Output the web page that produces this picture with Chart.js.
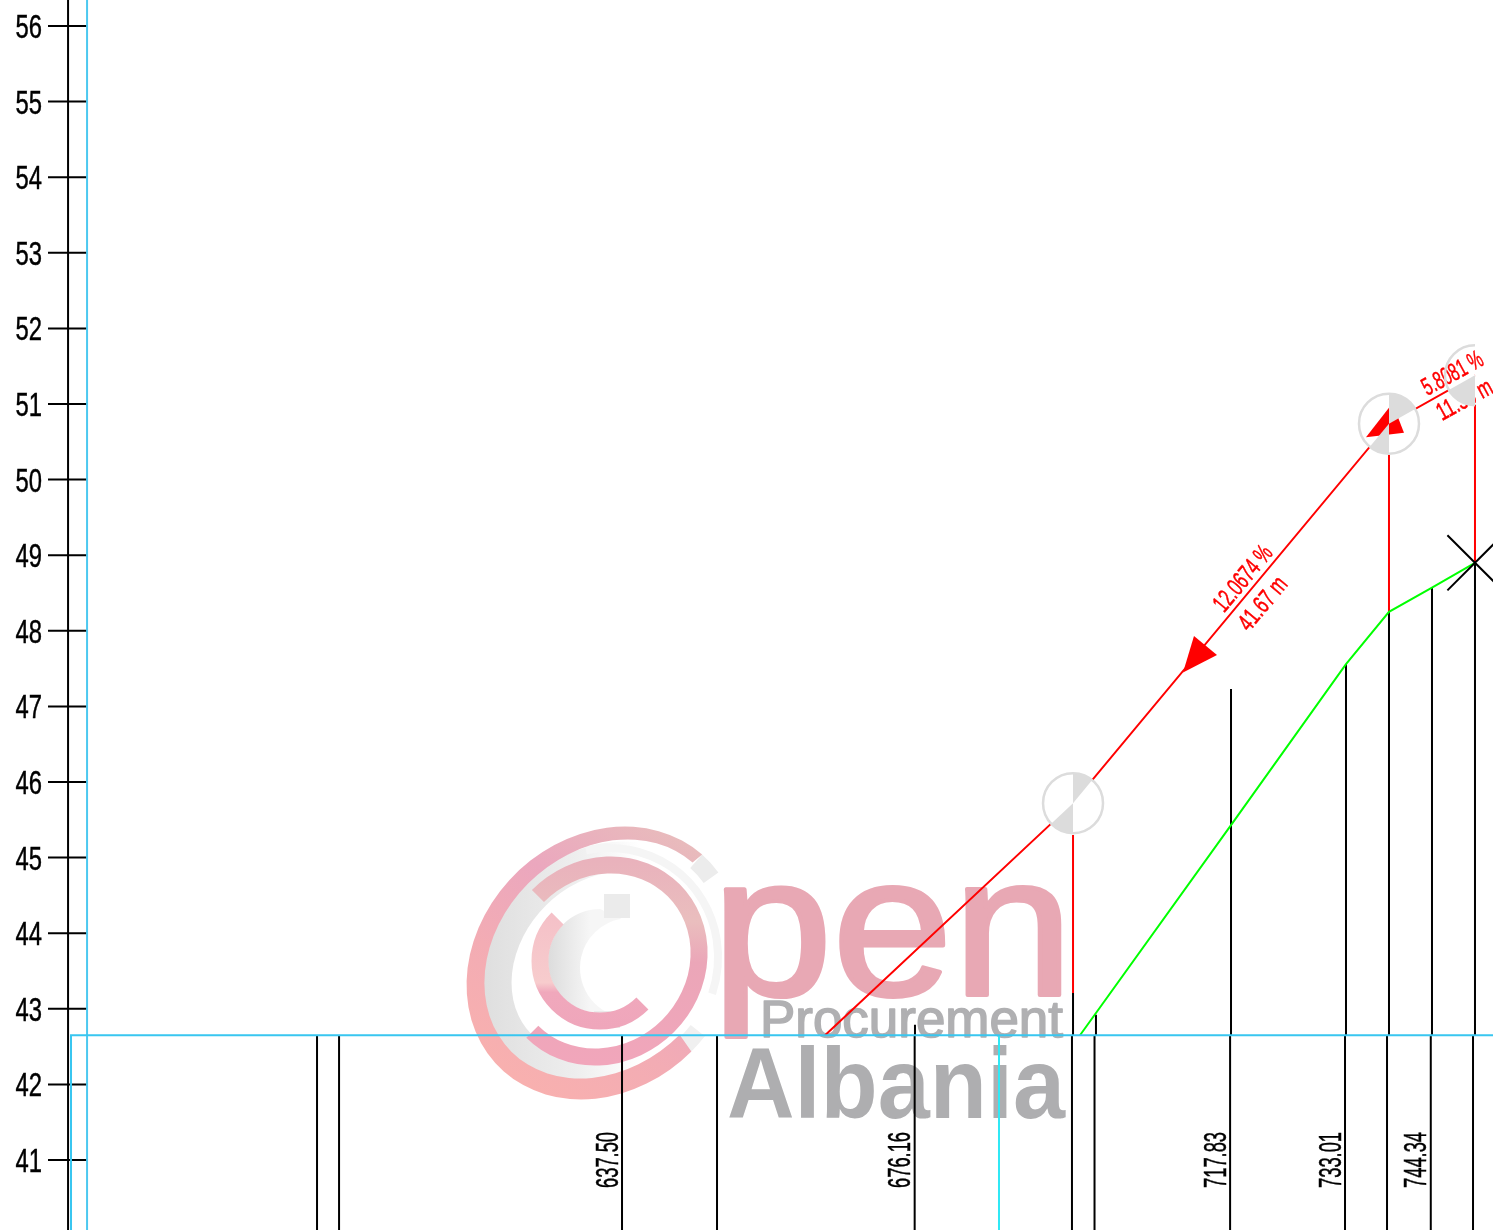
<!DOCTYPE html>
<html>
<head>
<meta charset="utf-8">
<title>Profile</title>
<script src="https://cdn.jsdelivr.net/npm/chart.js@4/dist/chart.umd.js"></script>
<style>
  html, body { margin: 0; padding: 0; background: #fff; }
  canvas { display: block; }
</style>
</head>
<body>
<canvas id="profile" width="1493" height="1230"></canvas>
<script>
// elevations on the left ruler
var yTicks = [41, 42, 43, 44, 45, 46, 47, 48, 49, 50, 51, 52, 53, 54, 55, 56];
var yMin = 40.074, yMax = 56.344;
var xMin = 561.67, xMax = 752.56;

// ruler lines
var rulerX = 564.32, rulerTickFrom = 561.67, rulerTickTo = 566.83;
var baseY = 42.65;
var baseStartX = 564.71;
var datumX = 566.83;
var cyanDropX = 687.30;

// stations below the datum line
var stationsBelow = [597.21, 600.12, 637.50, 650.05, 676.16, 696.94, 699.92, 717.83, 733.01, 738.56, 744.34, 749.92];
// stations above the datum line and where they stop
var stationsAboveX = [676.20, 697.08, 700.11, 717.95, 733.14, 738.82, 744.50, 750.18];
var stationsAboveY = [42.79, 43.21, 42.92, 47.23, 47.56, 48.25, 48.57, 48.90];

// labelled stations
var stationLabels = ['637.50', '676.16', '717.83', '733.01', '744.34'];
var stationLabelX = [637.50, 676.16, 717.83, 733.01, 744.34];
var stationLabelY = 40.63;

// ground line (green)
var groundX = [698.00, 717.95, 733.14, 738.82, 744.50, 750.18];
var groundY = [42.65, 45.43, 47.56, 48.25, 48.57, 48.90];

// pipe line (red) and its manholes
var pipeX = [664.32, 697.08, 738.82, 750.18];
var pipeY = [42.65, 45.72, 50.74, 51.38];
var riserX = [697.08, 738.82, 750.18];
var riserTop = [45.30, 50.33, 50.99];
var riserBottom = [43.21, 48.25, 48.90];

// arrow heads, three corners each
var arrowAX = [711.61, 713.06, 716.10], arrowAY = [47.45, 47.93, 47.68];
var arrowBX = [735.78, 739.28, 740.80], arrowBY = [50.56, 51.01, 50.62];

// slope texts
var slopeText = ['12.0674 %', '41.67 m', '5.8081 %', '11.36 m'];
var slopeX = [719.40, 722.04, 747.14, 748.73];
var slopeY = [48.70, 48.37, 51.42, 51.07];

var sans = '"Liberation Sans", sans-serif';

function xy(xs, ys) {
  return xs.map(function (x, i) { return { x: x, y: ys[i] }; });
}

function verticals(xs, tops, bottoms) {
  var out = [];
  xs.forEach(function (x, i) {
    out.push({ x: x, y: tops[i] }, { x: x, y: bottoms[i] }, { x: x, y: null });
  });
  return out;
}

function same(list, v) {
  return list.map(function () { return v; });
}

function line(data, color, width) {
  return { data: data, borderColor: color, borderWidth: width, pointRadius: 0, showLine: true, fill: false, tension: 0 };
}

// text squeezed to a given width, CAD fonts are much narrower than ours
function squeezed(ctx, text, px, py, angle, size, width, color, align) {
  ctx.save();
  ctx.translate(px, py);
  ctx.rotate(angle);
  ctx.font = size + 'px ' + sans;
  ctx.fillStyle = color;
  ctx.strokeStyle = color;
  ctx.lineWidth = 0.5;
  ctx.textAlign = align;
  ctx.textBaseline = 'alphabetic';
  var w = ctx.measureText(text).width;
  ctx.scale(width / w, 1);
  ctx.fillText(text, 0, 0);
  ctx.strokeText(text, 0, 0);
  ctx.restore();
}

function band(ctx, cx, cy, rx, ry, a0, a1, ccw, lw, style) {
  ctx.beginPath();
  ctx.ellipse(cx, cy, rx, ry, -Math.PI / 4, a0 * Math.PI / 180, a1 * Math.PI / 180, ccw);
  ctx.lineWidth = lw;
  ctx.strokeStyle = style;
  ctx.stroke();
}

function grad(ctx, x0, y0, x1, y1, stops) {
  var g = ctx.createLinearGradient(x0, y0, x1, y1);
  stops.forEach(function (s) { g.addColorStop(s[0], s[1]); });
  return g;
}

function wideText(ctx, text, x, base, width, size, weight, extra, color) {
  ctx.save();
  ctx.font = weight + ' ' + size + 'px ' + sans;
  ctx.fillStyle = color;
  ctx.strokeStyle = color;
  ctx.lineWidth = extra;
  ctx.lineJoin = 'round';
  ctx.textAlign = 'left';
  ctx.textBaseline = 'alphabetic';
  var w = ctx.measureText(text).width;
  ctx.translate(x, base);
  ctx.scale(width / w, 1);
  ctx.fillText(text, 0, 0);
  if (extra) ctx.strokeText(text, 0, 0);
  ctx.restore();
}

// the watermark sits behind the drawing
var watermark = {
  id: 'watermark',
  beforeDatasetsDraw: function (chart) {
    var ctx = chart.ctx;
    var rad = Math.PI / 180;
    var tilt = -Math.PI / 4;
    ctx.save();
    ctx.lineCap = 'butt';

    // grey shading
    var shade = grad(ctx, 480, 960, 640, 960, [[0, '#dedede'], [0.6, '#eeeeee'], [1, '#ffffff']]);
    band(ctx, 603, 963, 116, 96, -5, 90, true, 30, shade);
    band(ctx, 603, 963, 118, 112, -55, 62, false, 8, '#f5f5f5');
    band(ctx, 603, 963, 138, 116, -3, 8, false, 18, '#ececec');
    band(ctx, 603, 963, 138, 116, 90, 82, true, 18, '#f0f0f0');

    var inner = grad(ctx, 548, 960, 590, 960, [[0, '#dcdcdc'], [1, '#f6f6f6']]);
    ctx.beginPath();
    ctx.arc(600, 961, 52, -90 * rad, 90 * rad, true);
    ctx.lineTo(620, 1014);
    ctx.arc(630, 968, 50, 102 * rad, -100 * rad, false);
    ctx.closePath();
    ctx.fillStyle = inner;
    ctx.fill();
    ctx.fillStyle = '#ebebeb';
    ctx.fillRect(594, 1011, 26, 17);
    ctx.fillRect(604, 894, 26, 24);

    // outer band, heavier towards the bottom
    ctx.beginPath();
    ctx.ellipse(603, 963, 147, 125, tilt, -3 * rad, 90 * rad, true);
    ctx.ellipse(604, 959, 131, 107, tilt, 90 * rad, -3 * rad, false);
    ctx.closePath();
    ctx.fillStyle = grad(ctx, 500, 1090, 680, 830, [[0, '#f9b1ae'], [0.35, '#f3acb4'], [0.65, '#eba7be'], [1, '#e8bcbc']]);
    ctx.fill();
    // middle band
    band(ctx, 603, 961, 100, 92, -90, 180, false, 17,
      grad(ctx, 620, 860, 620, 1065, [[0, '#e9b2bc'], [0.3, '#eabebe'], [0.5, '#eba6b8'], [1, '#f1a6bb']]));
    // inner band
    band(ctx, 600, 961, 60, 60, -90, 90, true, 17,
      grad(ctx, 560, 895, 560, 1030, [[0, '#f4bdc6'], [0.65, '#f7cccd'], [0.72, '#f0a8bc'], [1, '#efa6bb']]));

    wideText(ctx, 'pen', 712, 995, 361, 200, 'normal', 4, '#e8a8b4');
    wideText(ctx, 'Procurement', 760, 1037, 303, 51, 'normal', 1.5, '#b0b0b2');
    wideText(ctx, 'Albania', 727, 1118, 338, 100, 'bold', 0, '#aeaeb0');
    ctx.restore();
  }
};

// manholes, slope texts and station numbers
var annotations = {
  id: 'annotations',
  afterDatasetsDraw: function (chart) {
    var ctx = chart.ctx;
    var sx = chart.scales.x, sy = chart.scales.y;
    var nodes = xy(pipeX, pipeY).map(function (p) {
      return { x: sx.getPixelForValue(p.x), y: sy.getPixelForValue(p.y) };
    });
    var r = 30;

    ctx.save();

    // ruler numbers, squeezed the same way as the rest of the text
    sy.ticks.forEach(function (t) {
      var label = String(t.value);
      ctx.font = '34px ' + sans;
      squeezed(ctx, label, 42, sy.getPixelForValue(t.value) + 12, 0, 34, ctx.measureText(label).width * 0.7, '#000', 'right');
    });

    // station numbers
    stationLabels.forEach(function (t, i) {
      squeezed(ctx, t, sx.getPixelForValue(stationLabelX[i]) - 4.5, sy.getPixelForValue(stationLabelY),
        -Math.PI / 2, 31, 56, '#000', 'left');
    });

    // the pipe does not show inside the manhole circles
    nodes.forEach(function (n, i) {
      if (i === 0) return;
      ctx.save();
      ctx.beginPath();
      ctx.arc(n.x, n.y, r, 0, Math.PI * 2);
      ctx.clip();
      ctx.beginPath();
      ctx.moveTo(nodes[i - 1].x, nodes[i - 1].y);
      ctx.lineTo(n.x, n.y);
      if (nodes[i + 1]) ctx.lineTo(nodes[i + 1].x, nodes[i + 1].y);
      ctx.strokeStyle = '#fff';
      ctx.lineWidth = 4;
      ctx.stroke();
      ctx.restore();
    });

    // slope texts
    var angles = [-0.875, -0.875, -0.5, -0.5];
    var widths = [78, 62, 66, 60];
    slopeText.forEach(function (t, i) {
      ctx.save();
      ctx.translate(sx.getPixelForValue(slopeX[i]), sy.getPixelForValue(slopeY[i]));
      ctx.rotate(angles[i]);
      squeezed(ctx, t, 0, 9, 0, 25, widths[i], '#ff0000', 'center');
      ctx.restore();
    });

    // arrow heads
    [[arrowAX, arrowAY], [arrowBX, arrowBY]].forEach(function (a) {
      ctx.beginPath();
      a[0].forEach(function (x, i) {
        ctx.lineTo(sx.getPixelForValue(x), sy.getPixelForValue(a[1][i]));
      });
      ctx.closePath();
      ctx.fillStyle = '#ff0000';
      ctx.fill();
    });

    // manhole circles, the last one is cut at its station
    nodes.forEach(function (n, i) {
      if (i === 0) return;
      var prev = nodes[i - 1], next = nodes[i + 1];
      var toPrev = Math.atan2(prev.y - n.y, prev.x - n.x);
      ctx.fillStyle = '#dcdcdc';
      ctx.beginPath();
      ctx.moveTo(n.x, n.y);
      ctx.arc(n.x, n.y, r, Math.PI / 2, toPrev);
      ctx.closePath();
      ctx.fill();
      if (next) {
        var toNext = Math.atan2(next.y - n.y, next.x - n.x);
        ctx.beginPath();
        ctx.moveTo(n.x, n.y);
        ctx.arc(n.x, n.y, r, -Math.PI / 2, toNext);
        ctx.closePath();
        ctx.fill();
      }
      ctx.beginPath();
      if (next) ctx.arc(n.x, n.y, r, 0, Math.PI * 2);
      else ctx.arc(n.x, n.y, r, Math.PI / 2, Math.PI * 1.5);
      ctx.strokeStyle = '#dcdcdc';
      ctx.lineWidth = 2.5;
      ctx.stroke();
    });

    ctx.restore();
  }
};

var tickMarks = [];
yTicks.forEach(function (v) {
  tickMarks.push({ x: rulerTickFrom, y: v }, { x: rulerTickTo, y: v }, { x: rulerTickTo, y: null });
});

new Chart(document.getElementById('profile'), {
  type: 'scatter',
  data: {
    datasets: [
      line([{ x: baseStartX, y: yMin }, { x: baseStartX, y: baseY }, { x: xMax, y: baseY }], '#38c6f0', 2),
      line([{ x: cyanDropX, y: baseY }, { x: cyanDropX, y: yMin }], '#30e8f5', 2),
      line([{ x: datumX, y: yMax }, { x: datumX, y: yMin }], '#4cc8f0', 2),
      {
        data: [{ x: pipeX[3], y: groundY[5] }],
        pointStyle: 'crossRot',
        pointRadius: 39,
        pointBorderColor: '#000',
        pointBorderWidth: 2,
        showLine: false
      },
      line(xy(groundX, groundY), '#00ff00', 2),
      line(verticals(riserX, riserTop, riserBottom), '#ff0000', 2),
      line(xy(pipeX, pipeY), '#ff0000', 2),
      line(verticals(stationsAboveX, stationsAboveY, same(stationsAboveX, baseY)), '#000', 2),
      line(verticals(stationsBelow, same(stationsBelow, baseY), same(stationsBelow, yMin)), '#000', 2),
      line(tickMarks, '#000', 2),
      line([{ x: rulerX, y: yMax }, { x: rulerX, y: yMin }], '#000', 2)
    ]
  },
  options: {
    responsive: false,
    animation: false,
    layout: { padding: 0, autoPadding: false },
    plugins: { legend: { display: false }, tooltip: { enabled: false } },
    scales: {
      x: { type: 'linear', display: false, min: xMin, max: xMax },
      y: {
        type: 'linear',
        min: yMin,
        max: yMax,
        border: { display: false },
        grid: { display: false, drawTicks: false },
        ticks: { display: false, autoSkip: false },
        afterBuildTicks: function (scale) {
          scale.ticks = yTicks.map(function (v) { return { value: v }; });
        },
        afterFit: function (scale) {
          scale.width = 48;
          scale.paddingTop = 0;
          scale.paddingBottom = 0;
        }
      }
    }
  },
  plugins: [watermark, annotations]
});
</script>
</body>
</html>
